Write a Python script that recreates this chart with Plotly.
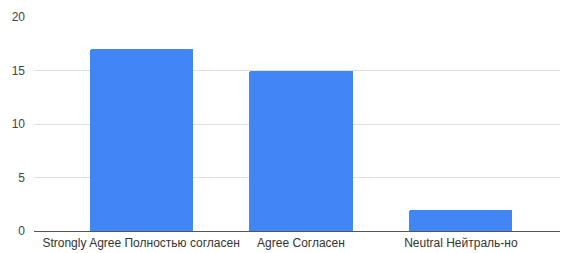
import plotly.graph_objects as go

categories = ["Strongly Agree Полностью согласен", "Agree Согласен", "Neutral Нейтраль-но"]
values = [17, 15, 2]
y_ticks = [0, 5, 10, 15, 20]

fig = go.Figure(go.Bar(
    x=list(range(len(categories))), y=values,
    marker=dict(color="#4285F4", cornerradius=2, line=dict(width=0)),
    width=0.645,
))
fig.update_layout(
    width=563, height=253,
    margin=dict(l=34, r=3, t=17, b=20),
    paper_bgcolor="white", plot_bgcolor="white",
    font=dict(family="Arial, Liberation Sans, sans-serif", size=11, color="#444"),
    showlegend=False,
    bargap=0,
)
fig.update_xaxes(
    range=[-0.67, 2.62],
    tickvals=list(range(len(categories))), ticktext=categories,
    showgrid=False, showline=False, ticks="", zeroline=False,
    tickfont=dict(size=12, color="#333"),
    ticklabelstandoff=3,
)
fig.update_yaxes(
    range=[0, 20], tickvals=y_ticks,
    showgrid=True, gridcolor="#e0e0e0", gridwidth=1,
    zeroline=True, zerolinecolor="#555", zerolinewidth=1,
    ticks="", tickfont=dict(size=12, color="#444"),
    ticklabelstandoff=8,
)
fig.write_html("out.html", config={"displayModeBar": False},
               post_script="document.body.style.margin='0';document.body.style.overflow='hidden';")
